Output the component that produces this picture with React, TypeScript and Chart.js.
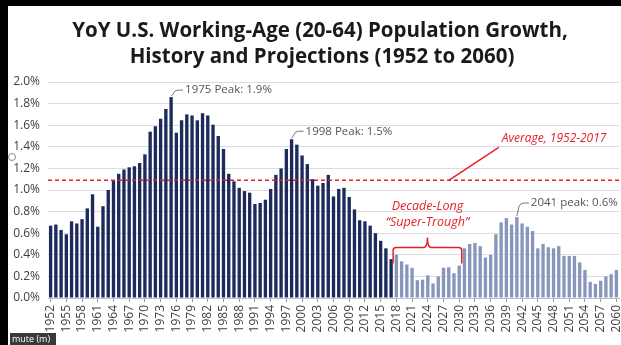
import { useEffect, useRef } from 'react';
import { Chart, registerables } from 'chart.js';

Chart.register(...registerables);

const FIRST_YEAR = 1952;
// YoY growth, % (1952-2017, history)
const HISTORY = [
  0.67, 0.68, 0.63, 0.59, 0.71, 0.69, 0.73, 0.83, 0.96, 0.66,
  0.85, 1.0, 1.09, 1.15, 1.19, 1.21, 1.22, 1.25, 1.33, 1.54,
  1.59, 1.66, 1.75, 1.86, 1.53, 1.645, 1.7, 1.69, 1.645, 1.71,
  1.69, 1.605, 1.5, 1.38, 1.15, 1.08, 1.02, 0.99, 0.975, 0.87,
  0.88, 0.91, 1.01, 1.14, 1.2, 1.38, 1.47, 1.42, 1.32, 1.24,
  1.1, 1.04, 1.065, 1.14, 0.94, 1.01, 1.02, 0.935, 0.82, 0.72,
  0.71, 0.67, 0.6, 0.53, 0.46, 0.36,
];
// YoY growth, % (2018-2060, projection)
const PROJECTION = [
  0.4, 0.34, 0.31, 0.28, 0.165, 0.17, 0.21, 0.135, 0.2, 0.28,
  0.285, 0.23, 0.3, 0.46, 0.5, 0.51, 0.48, 0.375, 0.4, 0.59,
  0.7, 0.74, 0.68, 0.75, 0.69, 0.66, 0.62, 0.46, 0.5, 0.47,
  0.46, 0.48, 0.39, 0.39, 0.39, 0.33, 0.26, 0.15, 0.13, 0.16,
  0.2, 0.22, 0.26,
];
const AVERAGE = 1.09;
const Y_MIN = 0;
const Y_MAX = 2.0;
const Y_STEP = 0.2;
const LABEL_EVERY = 3;

const TITLE_LINES = [
  'YoY U.S. Working-Age (20-64) Population Growth,',
  'History and Projections (1952 to 2060)',
];
const PEAK_YEARS = [1975, 1998, 2041];
const PEAK_TEXTS = ['1975 Peak: 1.9%', '1998 Peak: 1.5%', '2041 peak: 0.6%'];
const AVERAGE_TEXT = 'Average, 1952-2017';
const AVERAGE_POINTER_YEAR = 2028;
const TROUGH_TEXTS = ['Decade-Long', '\u201cSuper-Trough\u201d'];
const TROUGH_START = 2017;
const TROUGH_END = 2030;

const VALUES = [...HISTORY, ...PROJECTION];
const YEARS = VALUES.map((_, i) => String(FIRST_YEAR + i));

const DARK = '#1c2b5c';
const LIGHT = '#8797bb';
const RED = '#e3202a';
const FONT = '"Open Sans", "DejaVu Sans", sans-serif';

const annotations = {
  id: 'annotations',
  afterDraw(chart: any) {
    const { ctx, scales, width, height, chartArea } = chart;
    const xs = scales.x;
    const ys = scales.y;
    const xOf = (year: number) => xs.getPixelForValue(year - FIRST_YEAR);
    ctx.save();

    // average dashed line
    const ay = ys.getPixelForValue(AVERAGE);
    ctx.strokeStyle = RED;
    ctx.lineWidth = 1.5;
    ctx.setLineDash([4, 3]);
    ctx.beginPath();
    ctx.moveTo(chartArea.left, ay);
    ctx.lineTo(width, ay);
    ctx.stroke();
    ctx.setLineDash([]);

    // peak labels
    const rises = [7, 8, 14];
    ctx.font = `11.5px ${FONT}`;
    ctx.fillStyle = '#555';
    ctx.textBaseline = 'middle';
    ctx.textAlign = 'left';
    ctx.strokeStyle = '#777';
    ctx.lineWidth = 1;
    PEAK_YEARS.forEach((yr, k) => {
      const bx = xOf(yr);
      const by = ys.getPixelForValue(VALUES[yr - FIRST_YEAR]);
      const ty = by - rises[k];
      ctx.beginPath();
      ctx.moveTo(bx, by - 1);
      ctx.lineTo(bx + 2, ty + 4);
      ctx.quadraticCurveTo(bx + 3, ty, bx + 7, ty);
      ctx.lineTo(bx + 12, ty);
      ctx.stroke();
      ctx.fillText(PEAK_TEXTS[k], bx + 14, ty);
    });

    // average label
    ctx.strokeStyle = RED;
    ctx.fillStyle = RED;
    ctx.lineWidth = 1.5;
    const lx = xOf(AVERAGE_POINTER_YEAR);
    ctx.beginPath();
    ctx.moveTo(lx, ay);
    ctx.lineTo(lx + 50, ay - 33);
    ctx.stroke();
    ctx.font = `italic 12px ${FONT}`;
    ctx.fillText(AVERAGE_TEXT, lx + 53, ay - 42);

    // trough bracket
    const x1 = xOf(TROUGH_START) + 2;
    const x2 = xOf(TROUGH_END) + 2.5;
    const xm = (x1 + x2) / 2;
    const by = ys.getPixelForValue(0.32);
    const hy = by - 16;
    ctx.beginPath();
    ctx.moveTo(x1, by);
    ctx.lineTo(x1, hy + 3);
    ctx.quadraticCurveTo(x1, hy, x1 + 3, hy);
    ctx.lineTo(xm - 4, hy);
    ctx.quadraticCurveTo(xm, hy, xm, hy - 10);
    ctx.quadraticCurveTo(xm, hy, xm + 4, hy);
    ctx.lineTo(x2 - 3, hy);
    ctx.quadraticCurveTo(x2, hy, x2, hy + 3);
    ctx.lineTo(x2, by);
    ctx.stroke();
    ctx.textAlign = 'center';
    ctx.font = `italic 12.5px ${FONT}`;
    ctx.fillText(TROUGH_TEXTS[0], xm, hy - 41);
    ctx.fillText(TROUGH_TEXTS[1], xm, hy - 25);

    // title
    ctx.fillStyle = '#1a1a1a';
    ctx.font = `bold 20.5px ${FONT}`;
    ctx.fillText(TITLE_LINES[0], 320, 31);
    ctx.fillText(TITLE_LINES[1], 322, 57);

    // frame artifacts from the screenshot
    ctx.fillStyle = '#000';
    ctx.fillRect(0, 0, width, 6);
    ctx.fillRect(0, 0, 8, height);
    ctx.fillStyle = '#3a3a3a';
    ctx.fillRect(10, 333, 46, 12);
    ctx.fillStyle = '#fff';
    ctx.font = `9px ${FONT}`;
    ctx.textAlign = 'left';
    ctx.fillText('mute (m)', 12, 339);
    ctx.strokeStyle = '#888';
    ctx.lineWidth = 1;
    ctx.beginPath();
    ctx.arc(12, 157, 3.5, 0, Math.PI * 2);
    ctx.stroke();
    ctx.restore();
  },
};

export default function App() {
  const ref = useRef<HTMLCanvasElement | null>(null);
  useEffect(() => {
    document.body.style.margin = '0';
    const canvas = ref.current!;
    const chart = new Chart(canvas, {
      type: 'bar',
      data: {
        labels: YEARS,
        datasets: [
          {
            data: VALUES,
            backgroundColor: VALUES.map((_, i) => (i < HISTORY.length ? DARK : LIGHT)),
            barPercentage: 0.64,
            categoryPercentage: 1,
          },
        ],
      },
      options: {
        responsive: false,
        animation: false,
        layout: { padding: { top: 82, right: 2, left: 0, bottom: 0 } },
        plugins: { legend: { display: false }, tooltip: { enabled: false }, title: { display: false } },
        scales: {
          x: {
            afterFit: (s: any) => {
              s.height = 47;
              s.paddingLeft = 0;
              s.paddingRight = 0;
            },
            grid: {
              offset: false,
              drawOnChartArea: false,
              drawTicks: true,
              tickLength: 4,
              color: (c: any) => (c.index % LABEL_EVERY === 0 ? '#999' : 'rgba(0,0,0,0)'),
            },
            border: { display: true, color: '#bfbfbf' },
            ticks: {
              autoSkip: false,
              minRotation: 90,
              maxRotation: 90,
              padding: 3,
              color: '#404040',
              font: { family: FONT, size: 12 },
              callback: (_v: any, i: number) => (i % LABEL_EVERY === 0 ? YEARS[i] : ''),
            },
          },
          y: {
            min: Y_MIN,
            max: Y_MAX,
            afterFit: (s: any) => { s.width = 48; },
            grid: { color: '#dcdcdc', drawTicks: false },
            border: { display: false },
            ticks: {
              stepSize: Y_STEP,
              padding: 8,
              color: '#404040',
              font: { family: FONT, size: 12 },
              callback: (v: any) => Number(v).toFixed(1) + '%',
            },
          },
        },
      },
      plugins: [annotations],
    });
    return () => chart.destroy();
  }, []);
  return (
    <div style={{ position: 'fixed', left: 0, top: 0, width: 621, height: 345, background: '#fff' }}>
      <canvas ref={ref} width={621} height={345} style={{ display: 'block', width: 621, height: 345 }} />
    </div>
  );
}
